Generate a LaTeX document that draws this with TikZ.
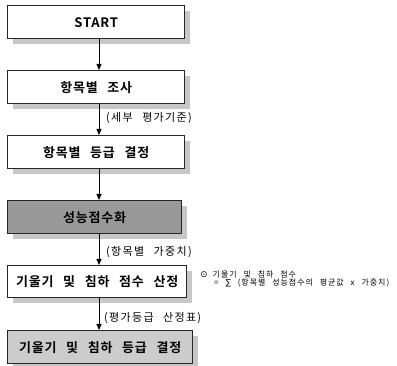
\documentclass[tikz,border=0pt]{standalone}
\usepackage{fontspec}
\setmainfont{Noto Sans CJK KR}
\newfontfamily\kbold[LetterSpace=6,WordSpace=2.6]{Noto Sans CJK KR Bold}
\newfontfamily\klab[LetterSpace=12,WordSpace=2]{Noto Sans CJK KR}
\newfontfamily\knote[LetterSpace=12,WordSpace=2.5]{Noto Sans CJK KR}
\newfontfamily\djsym{DejaVu Sans}
\usetikzlibrary{arrows.meta,shadows}
\begin{document}
\begin{tikzpicture}[x=1pt,y=1pt,
  box/.style={draw=black!85, line width=1.4pt, rectangle, anchor=north west,
    minimum height=33pt, inner sep=0pt,
    font=\kbold\fontsize{13}{13}\selectfont,
    drop shadow={shadow xshift=5pt, shadow yshift=-5pt, fill=black!22, opacity=1}},
  arr/.style={-{Triangle[length=6pt,width=5pt]}, line width=0.8pt},
  lab/.style={anchor=west, inner sep=0pt, font=\klab\fontsize{11}{11}\selectfont},
  note/.style={anchor=west, inner sep=0pt, font=\knote\fontsize{8}{8}\selectfont}]
\useasboundingbox (0,0) rectangle (397,366);
\fill[white] (0,0) rectangle (397,366);
\node[box, fill=white, minimum width=177pt] (b1) at (7,361) {START};
\node[box, fill=white, minimum width=177pt] (b2) at (7,296) {항목별 조사};
\node[box, fill=white, minimum width=177pt] (b3) at (7,231) {항목별 등급 결정};
\node[box, fill=black!40, minimum width=174pt] (b4) at (7,166) {성능점수화};
\node[box, fill=white, minimum width=179pt, minimum height=32pt] (b5) at (7,101) {기울기 및 침하 점수 산정};
\node[box, fill=black!20, minimum width=185pt] (b6) at (7,36) {기울기 및 침하 등급 결정};
\coordinate (ax) at (99,0);
\draw[arr] (b1.south -| ax) -- (b2.north -| ax);
\draw[arr] (b2.south -| ax) -- (b3.north -| ax);
\draw[arr] (b3.south -| ax) -- (b4.north -| ax);
\draw[arr] (b4.south -| ax) -- (b5.north -| ax);
\draw[arr] (b5.south -| ax) -- (b6.north -| ax);
\node[lab] (l1) at (106,248) {(세부 평가기준)};
\node[lab] (l2) at (106,114) {(항목별 가중치)};
\node[lab] (l3) at (104,48) {(평가등급 산정표)};
\node[note] (n1) at (200,92) {{\djsym\fontsize{9}{9}\selectfont ⊙}\hspace{5pt}기울기 및 침하 점수};
\node[note] (n2) at (214,83) {= {\djsym ∑} (항목별 성능점수의 평균값 x 가중치)};
\end{tikzpicture}
\end{document}
